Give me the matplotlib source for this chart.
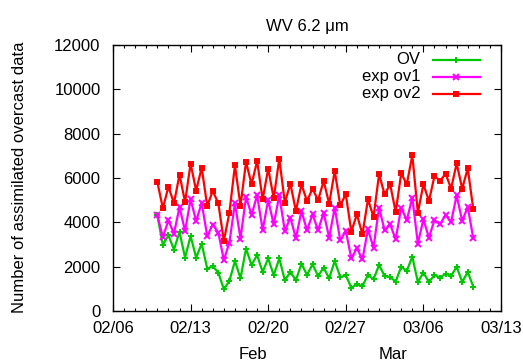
import matplotlib
matplotlib.use("Agg")
import matplotlib.pyplot as plt
import matplotlib.dates as mdates
from matplotlib.lines import Line2D
import pandas as pd

plt.rcParams['font.family'] = ['Liberation Sans', 'DejaVu Sans']
FS = 12

# analysis times, every 12 h
times = pd.date_range("2015-02-10 00:00", periods=58, freq="12h")

ov = [4316, 2978, 3414, 2767, 3564, 2406, 3384, 2406, 3038, 1910, 2030, 1730, 978, 1354, 2256, 1474, 2812,
      2076, 2527, 1760, 2376, 1609, 2376, 1384, 1760, 1384, 2136, 1624, 2106, 1579, 1955, 1474, 2256, 1534,
      1609, 1053, 1203, 1128, 1624, 1429, 2076,
      1579, 1534, 1324, 2000, 1805, 2451, 1308, 1730, 1308, 1624, 1504, 1684, 1579, 2000, 1308, 1760, 1098]

exp_ov1 = [4316, 3339, 4091, 3489, 4692, 3610, 5038, 4061, 4873, 3384, 3895, 3534, 2301, 3083, 4873, 3264, 5144,
           4332, 5219, 3655, 4993, 3910, 5219, 3610, 4211, 3279, 4512, 3640, 4362, 3640, 4437, 3309, 4662, 3188,
           3610, 2376, 2828, 2331, 3685, 2858, 4662,
           3640, 3910, 3234, 4662, 4091, 5114, 3038, 4136, 3309, 4106, 3910, 4332, 4016, 5219, 4061, 4692, 3279]

exp_ov2 = [5820, 4632, 5610, 4858, 6151, 4918, 6648, 5429, 6467, 4738, 5414, 4858, 3158, 4437, 6572, 4738, 6723,
           5715, 6768, 5038, 6422, 5084, 6873, 4888, 5745, 4512, 5715, 4963, 5520, 4993, 5866, 4843, 6317, 4768,
           5264, 3580, 4362, 3459, 5038, 4241, 6166,
           5264, 5715, 4467, 6212, 5715, 7024, 4437, 5715, 4963, 6091, 5866, 6196, 5520, 6663, 5520, 6437, 4587]

series = [("OV", ov, "#00c800", "+"),
          ("exp ov1", exp_ov1, "#ff00ff", "x"),
          ("exp ov2", exp_ov2, "#ff0000", "s")]

fig = plt.figure(figsize=(5.23, 3.62), dpi=100)
ax = fig.add_axes([113 / 523, 1 - 311 / 362, 388 / 523, 266 / 362])

for name, vals, col, mk in series:
    ax.plot(times, vals, color=col, lw=1.6, marker=mk, ms=5 if mk != "s" else 3.4,
            mew=1.4, mfc=col, mec=col)

ax.set_xlim(pd.Timestamp("2015-02-06"), pd.Timestamp("2015-03-13"))
ax.set_ylim(0, 12000)
ax.set_yticks(range(0, 12001, 2000))
major = pd.date_range("2015-02-06", "2015-03-13", freq="7D")
ax.set_xticks(major)
ax.xaxis.set_major_formatter(mdates.DateFormatter("%m/%d"))
ax.xaxis.set_minor_locator(mdates.DayLocator())

ax.tick_params(which="both", direction="in", top=True, right=True, labelsize=FS, colors="black")
ax.tick_params(which="major", length=5, width=0.8)
ax.tick_params(axis="x", which="major", pad=7)
ax.tick_params(axis="y", which="major", pad=9)
ax.tick_params(which="minor", length=2.5, width=0.8)
ax.tick_params(axis="y", which="minor", left=False, right=False)
for s in ax.spines.values():
    s.set_linewidth(1.0)

fig.text(20 / 523, 0.5 + 0.01, "Number of assimilated overcast data", rotation=90,
         ha="center", va="center", fontsize=FS)
ax.set_title("WV 6.2 \u03bcm", fontsize=FS, pad=10)

# month labels under the dates
ax.text(0.361, -0.163, "Feb", transform=ax.transAxes, ha="center", va="center", fontsize=FS)
ax.text(0.722, -0.163, "Mar", transform=ax.transAxes, ha="center", va="center", fontsize=FS)

# key in the top right corner, text before the sample line
for i, (name, vals, col, mk) in enumerate(series):
    y = 0.945 - i * 0.064
    ax.text(0.792, y, name, transform=ax.transAxes, ha="right", va="center", fontsize=FS)
    ax.add_line(Line2D([0.824, 0.946], [y, y], transform=ax.transAxes, color=col, lw=1.6))
    ax.add_line(Line2D([0.885], [y], transform=ax.transAxes, color=col, marker=mk,
                       ms=5 if mk != "s" else 3.4, mew=1.4, mfc=col, mec=col))

fig.savefig("out.png", dpi=100)
